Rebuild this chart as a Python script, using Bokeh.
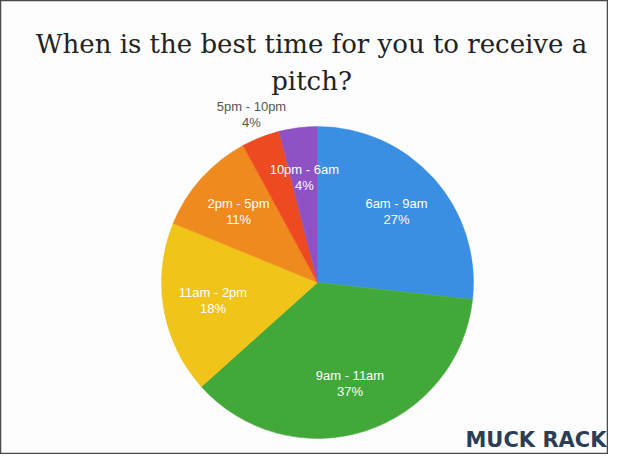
import math
from bokeh.plotting import figure
from bokeh.models import ColumnDataSource, Label
from bokeh.core.properties import value
from bokeh.embed import file_html
from bokeh.resources import INLINE

# Data
categories = ["6am - 9am", "9am - 11am", "11am - 2pm", "2pm - 5pm", "5pm - 10pm", "10pm - 6am"]
shares = [27, 37, 18, 11, 4, 4]
pct_labels = ["27%", "37%", "18%", "11%", "4%", "4%"]
colors = ["#3b8fe3", "#43a83a", "#f0c419", "#ef8a1f", "#ee4a22", "#8f52c4"]
outside = [False, False, False, False, True, False]

W, H = 608, 454
p = figure(width=W, height=H, x_range=(0, W), y_range=(0, H),
           output_backend="svg", toolbar_location=None, min_border=0)
p.axis.visible = False
p.grid.visible = False
p.background_fill_color = "#fdfdfd"
p.border_fill_color = "#ffffff"
p.outline_line_color = "#4a4a4a"
p.outline_line_width = 1.5

cx, cy, R = 317, 172, 156
total = float(sum(shares))
starts, ends, lx, ly = [], [], [], []
cum = 0.0
for s, out in zip(shares, outside):
    a0 = cum / total
    a1 = (cum + s) / total
    cum += s
    starts.append(math.pi / 2 - a0 * 2 * math.pi)
    ends.append(math.pi / 2 - a1 * 2 * math.pi)
    mid = (a0 + a1) / 2 * 2 * math.pi
    rf = 1.16 if out else 0.68
    lx.append(cx + math.sin(mid) * R * rf)
    ly.append(cy + math.cos(mid) * R * rf)

src = ColumnDataSource(dict(start=starts, end=ends, color=colors))
p.wedge(x=cx, y=cy, radius=R, start_angle="start", end_angle="end",
        direction="clock", fill_color="color", line_color="color",
        line_width=0.5, source=src)

for cat, pct, x, y, out in zip(categories, pct_labels, lx, ly, outside):
    col = "#555555" if out else "#ffffff"
    p.text(x=[x], y=[y + 8], text=[cat], text_align="center", text_baseline="middle",
           text_font=value("Liberation Sans"), text_font_size="13px", text_color=col)
    p.text(x=[x], y=[y - 8], text=[pct], text_align="center", text_baseline="middle",
           text_font=value("Liberation Sans"), text_font_size="13px", text_color=col)

p.add_layout(Label(x=311, y=411, text="When is the best time for you to receive a",
                   text_align="center", text_baseline="middle",
                   text_font="DejaVu Serif", text_font_size="26px", text_color="#222222"))
p.add_layout(Label(x=311, y=374, text="pitch?",
                   text_align="center", text_baseline="middle",
                   text_font="DejaVu Serif", text_font_size="26px", text_color="#222222"))
p.add_layout(Label(x=606, y=3, text="MUCK RACK", text_align="right", text_baseline="bottom",
                   text_font="DejaVu Sans", text_font_size="21px", text_font_style="bold",
                   text_color="#2c3e55"))

open("out.html", "w").write(file_html(p, INLINE))
